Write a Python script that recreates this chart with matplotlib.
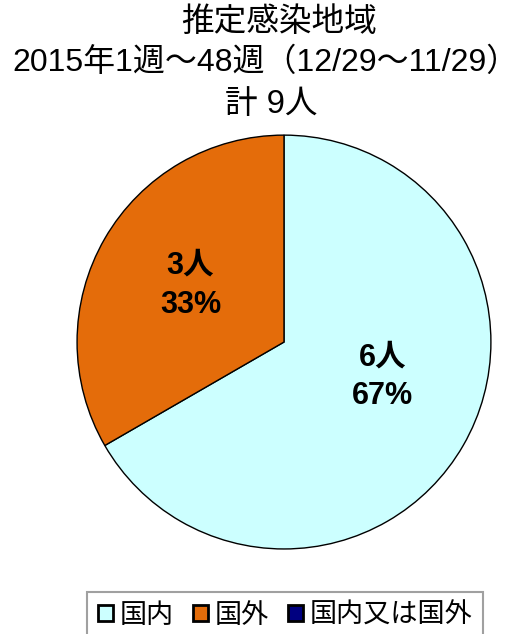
import matplotlib
matplotlib.use('Agg')
import matplotlib.pyplot as plt
from matplotlib.patches import Patch

plt.rcParams['font.family'] = ['Liberation Sans', 'Noto Sans CJK JP']

# データ
categories = ['国内', '国外', '国内又は国外']
counts = [6, 3, 0]
colors = ['#CCFFFF', '#E46C0A', '#000080']
title_lines = ['推定感染地域', '2015年1週～48週（12/29～11/29）', '計 9人']
# ラベル位置 (データ座標, 円の半径=1)
label_pos = [(0.476, -0.168), (-0.452, 0.274)]

fig = plt.figure(figsize=(5.23, 6.34), dpi=100)
ax = fig.add_axes([0.1453, 0.1325, 0.7954, 0.656])

# 0人の項目は描かない
vals = [c for c in counts if c > 0]
cols = [colors[i] for i, c in enumerate(counts) if c > 0]
total = sum(counts)

wedges, texts = ax.pie(vals, colors=cols, startangle=90, counterclock=False,
                       wedgeprops=dict(edgecolor='black', linewidth=1.0))
ax.set_xlim(-1.005, 1.005)
ax.set_ylim(-1.005, 1.005)
ax.set_aspect('equal')

# ラベル
for (x, y), v in zip(label_pos, vals):
    ax.text(x, y, f'{v}人\n{v / total * 100:.0f}%', ha='center', va='center',
            fontsize=22, fontweight='bold', linespacing=1.4)

# タイトル
fig.text(279 / 523, 1 - 22 / 634, title_lines[0], ha='center', va='center', fontsize=23.5)
fig.text(266 / 523, 1 - 63 / 634, title_lines[1], ha='center', va='center', fontsize=23)
fig.text(271 / 523, 1 - 105 / 634, title_lines[2], ha='center', va='center', fontsize=23.5)

# 凡例
handles = [Patch(facecolor=c, edgecolor='black', linewidth=2) for c in colors]
leg = fig.legend(handles, categories, loc='upper center',
                 bbox_to_anchor=(285 / 523, 1 - 592 / 634), ncol=3,
                 fontsize=19.5, frameon=True, fancybox=False, borderaxespad=0,
                 handlelength=0.55, handleheight=0.55, handletextpad=0.25,
                 columnspacing=0.7, borderpad=0.4)
leg.get_frame().set_edgecolor('#888888')
leg.get_frame().set_linewidth(1.5)

fig.savefig('out.png', dpi=100)
